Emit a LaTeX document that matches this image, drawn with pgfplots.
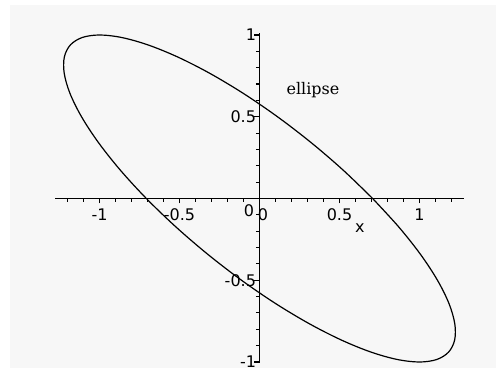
\documentclass[border=0pt]{standalone}
\usepackage{pgfplots}
\pgfplotsset{compat=1.18}
\usepackage{fontspec}
\setmainfont{DejaVu Sans}
\newfontfamily\serifface{DejaVu Serif}
\definecolor{panel}{HTML}{F7F7F7}

% Ellipse 2x^2 + 4xy + 3y^2 = 1, sampled every 10 degrees
\pgfplotstableread{
x y
0.70711 0
0.52272 0.17365
0.32244 0.34202
0.11237 0.5
-0.10111 0.64279
-0.31152 0.76604
-0.51248 0.86603
-0.69784 0.93969
-0.86202 0.98481
-1 1
-1.10760 0.98481
-1.18154 0.93969
-1.21958 0.86603
-1.22056 0.76604
-1.18447 0.64279
-1.11237 0.5
-1.00648 0.34202
-0.87002 0.17365
-0.70711 0
-0.52272 -0.17365
-0.32244 -0.34202
-0.11237 -0.5
0.10111 -0.64279
0.31152 -0.76604
0.51248 -0.86603
0.69784 -0.93969
0.86202 -0.98481
1 -1
1.10760 -0.98481
1.18154 -0.93969
1.21958 -0.86603
1.22056 -0.76604
1.18447 -0.64279
1.11237 -0.5
1.00648 -0.34202
0.87002 -0.17365
0.70711 0
}\ellipsedata

\begin{document}
\begin{tikzpicture}
% page and panel
\fill[white] (-259.5pt,-178.5pt) rectangle (236.5pt,198.5pt);
\fill[panel] (-249.5pt,-169.5pt) rectangle (236.5pt,193.5pt);
\begin{axis}[
  anchor=origin, at={(0pt,0pt)},
  x=160pt, y=163.5pt,
  xmin=-1.275, xmax=1.275, ymin=-1.006, ymax=1.012,
  axis lines=middle,
  axis line style={-, line width=1.4pt, black},
  clip=false,
  xtick={-1,-0.5,0.5,1},
  ytick={-1,-0.5,0.5,1},
  minor xtick={-1.2,-1.1,...,1.2},
  minor ytick={-1,-0.9,...,1},
  tick align=outside,
  major tick length=5pt,
  minor tick length=3.5pt,
  every tick/.style={black, line width=1.1pt},
  /pgf/number format/assume math mode=true,
  ticklabel style={font=\fontsize{16}{18}\selectfont},
  xticklabel style={yshift=-2pt},
  yticklabel style={xshift=5pt},
  xlabel={x},
  x label style={at={(axis cs:0.628,-0.18)}, anchor=center, font=\fontsize{16}{18}\selectfont},
  ylabel={},
]
\addplot[black, line width=1.2pt, smooth, tension=0.55] table {\ellipsedata};
\node[font=\fontsize{16}{18}\selectfont] at (axis cs:-0.0656,-0.0765) {0};
\node[font=\fontsize{16}{18}\selectfont] at (axis cs:0.022,-0.101) {0};
\node[font=\serifface\fontsize{16}{18}\selectfont] at (axis cs:0.334,0.664) {ellipse};
\end{axis}
\end{tikzpicture}
\end{document}
